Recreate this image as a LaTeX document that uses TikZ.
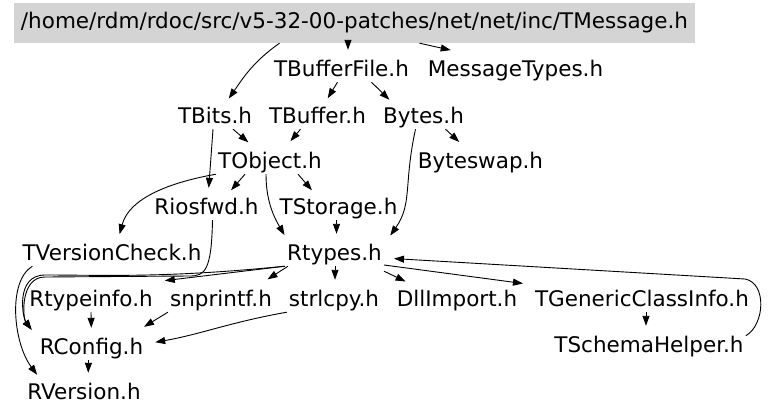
\documentclass[tikz,border=0pt]{standalone}
\usepackage{fontspec}
\setmainfont{DejaVu Sans}
\usetikzlibrary{arrows.meta}

\begin{document}
\begin{tikzpicture}[
  x=1pt, y=1pt,
  font=\fontsize{21.5pt}{26pt}\selectfont,
  >={Triangle[length=10pt,width=7pt]},
  hf/.style  = {inner xsep=2pt, inner ysep=0.5pt, text height=16pt, text depth=5pt},
  cur/.style = {hf, fill=black!17, minimum width=681pt, minimum height=40pt},
  inc/.style = {->, line width=0.9pt, shorten >=10pt}
]

\path[use as bounding box] (0,0) rectangle (768,-415);

% ============================ files ========================================
\node[cur] (msg) at (354.5,-23)
  {/home/rdm/rdoc/src/v5-32-00-patches/net/net/inc/TMessage.h};

\node[hf] (bufferfile) at (341.5,-71)  {TBufferFile.h};
\node[hf] (msgtypes)   at (515.5,-71)  {MessageTypes.h};
\node[hf] (tbits)      at (215,-118)   {TBits.h};
\node[hf] (tbuffer)    at (317.5,-118) {TBuffer.h};
\node[hf] (bytes)      at (423.5,-118) {Bytes.h};
\node[hf] (tobject)    at (270,-163)   {TObject.h};
\node[hf] (byteswap)   at (480.5,-163) {Byteswap.h};
\node[hf] (riosfwd)    at (206.5,-209) {Riosfwd.h};
\node[hf] (tstorage)   at (338.5,-209) {TStorage.h};
\node[hf] (tversion)   at (112,-255)   {TVersionCheck.h};
\node[hf] (rtypes)     at (334.5,-255) {Rtypes.h};
\node[hf] (rtypeinfo)  at (91,-301)    {Rtypeinfo.h};
\node[hf] (snprintf)   at (221,-301)   {snprintf.h};
\node[hf] (strlcpy)    at (334,-301)   {strlcpy.h};
\node[hf] (dllimport)  at (457,-301)   {DllImport.h};
\node[hf] (genclass)   at (642,-301)   {TGenericClassInfo.h};
\node[hf] (schema)     at (649,-347)   {TSchemaHelper.h};
\node[hf] (rconfig)    at (91.5,-349)  {RConfig.h};
\node[hf] (rversion)   at (84,-394)    {RVersion.h};

% ============================ includes =====================================
\draw[inc] ([xshift=-75pt]msg.south) to[out=-145,in=55] ([xshift=8pt]tbits.north);
\draw[inc] ([xshift=-6.5pt]msg.south) -- ([xshift=6.5pt]bufferfile.north);
\draw[inc] ([xshift=65pt]msg.south) -- ([xshift=-55pt,yshift=7.5pt]msgtypes.north);

\draw[inc] ([xshift=-4pt]bufferfile.south) -- ([xshift=5pt]tbuffer.north);
\draw[inc] ([xshift=30pt]bufferfile.south) -- ([xshift=-27pt]bytes.north);

\draw[inc] ([xshift=18pt]tbits.south) -- ([xshift=-14pt,yshift=3pt]tobject.north);
\draw[inc] ([xshift=-2pt]tbits.south) -- ([xshift=1.5pt]riosfwd.north);
\draw[inc] ([xshift=-17pt]tbuffer.south) -- ([xshift=14pt,yshift=3pt]tobject.north);
\draw[inc] ([xshift=-8pt]bytes.south) .. controls +(-12,-55) and +(28,40)
  .. ([xshift=50pt]rtypes.north);
\draw[inc] ([xshift=22pt]bytes.south) -- ([xshift=-14pt,yshift=3pt]byteswap.north);

\draw[inc] (tobject.south west) to[out=190,in=75] ([xshift=5pt]tversion.north);
\draw[inc] ([xshift=-25pt]tobject.south) -- ([xshift=18pt]riosfwd.north);
\draw[inc] ([xshift=28pt]tobject.south) -- ([xshift=-20pt]tstorage.north);
\draw[inc] ([xshift=-4pt]tobject.south) to[out=-90,in=120] ([xshift=-45pt]rtypes.north);
\draw[inc] ([xshift=-2pt]tstorage.south) -- ([xshift=2pt]rtypes.north);

% the two long ones that run under TVersionCheck.h into RConfig.h
\draw[inc] ([xshift=6pt]riosfwd.south) .. controls +(-1,-50) and +(15,0) .. (190,-276)
  -- (45,-277) .. controls +(-25,0) and +(-15,20) .. (rconfig.north west);
\draw[inc] (rtypes.south west) .. controls +(-120,-12) and +(60,0) .. (45,-275)
  .. controls +(-30,0) and +(-15,20) .. (rconfig.north west);
\draw[inc] ([xshift=12pt]tversion.south west) .. controls +(-25,-15) and +(-30,40)
  .. ([xshift=18pt]rversion.north west);

\draw[inc] (rtypes.south west) -- ([yshift=8pt]rtypeinfo.north east);
\draw[inc] ([xshift=3pt]rtypes.south west) -- ([xshift=-15pt,yshift=5pt]snprintf.north east);
\draw[inc] ([xshift=0.5pt]rtypes.south) -- ([xshift=1pt]strlcpy.north);
\draw[inc] ([yshift=-5pt]rtypes.south east) -- ([xshift=20pt,yshift=4pt]dllimport.north west);
\draw[inc] ([yshift=-10pt]rtypes.east) -- ([yshift=5pt]genclass.north west);

\draw[inc] (rtypeinfo.south) -- (rconfig.north);
\draw[inc] (snprintf.south west) -- ([xshift=44pt,yshift=17pt]rconfig.center);
\draw[inc] (strlcpy.south west) to[out=190,in=10] ([yshift=5pt]rconfig.east);
\draw[inc] ([xshift=-3pt]rconfig.south) -- ([xshift=4pt]rversion.north);

\draw[inc] ([xshift=4pt]genclass.south) -- ([xshift=-3pt]schema.north);
% back edge round the right of TGenericClassInfo.h
\draw[inc] (schema.north east) to[out=30,in=-10] (745,-279) -- ([yshift=-3pt]rtypes.east);

\end{tikzpicture}
\end{document}
